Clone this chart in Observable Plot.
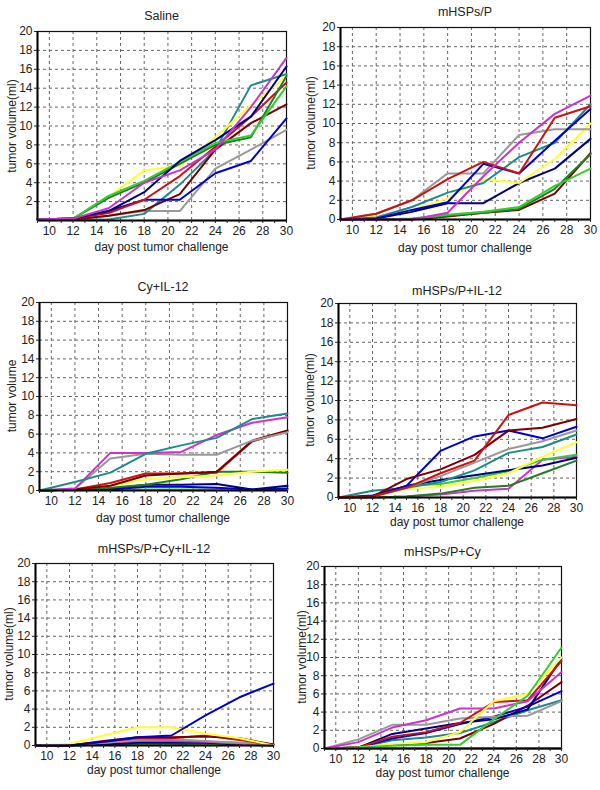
<!DOCTYPE html>
<html>
<head>
<meta charset="utf-8">
<script src="https://cdn.jsdelivr.net/npm/d3@7"></script>
<script src="https://cdn.jsdelivr.net/npm/@observablehq/plot@0.6"></script>
<style>
  html, body { margin: 0; padding: 0; background: #fff; }
  #root { position: relative; width: 600px; height: 790px; overflow: hidden; font-family: "Liberation Sans", Arial, sans-serif; color: #222; }
  .panel { position: absolute; }
  .title { position: absolute; font-size: 12.5px; font-weight: normal; text-align: center; white-space: nowrap; transform: translateX(-50%); }
  .xlab { position: absolute; font-size: 12px; white-space: nowrap; transform: translateX(-50%); }
  .ylab { position: absolute; font-size: 12px; white-space: nowrap; transform: translate(-50%, -50%) rotate(-90deg); }
</style>
</head>
<body>
<div id="root"></div>
<script>
// ---- data ----
const days = [9, 12, 15, 18, 21, 24, 27, 30];
const xTicks = [10, 12, 14, 16, 18, 20, 22, 24, 26, 28, 30];
const yTicks = [0, 2, 4, 6, 8, 10, 12, 14, 16, 18, 20];
const titles = ["Saline", "mHSPs/P", "Cy+IL-12", "mHSPs/P+IL-12", "mHSPs/P+Cy+IL-12", "mHSPs/P+Cy"];
const yLabels = ["tumor volume(ml)", "tumor volume(ml)", "tumor volume", "tumor volume(ml)", "tumor volume(ml)", "tumor volume(ml)"];
const xLabel = "day post tumor challenge";

const salineNames = ["gray", "teal", "maroon", "blue", "red", "yellow", "darkgreen", "lime", "navy", "magenta"];
const salineValues = [
  [0.1, 0.1, 0.5, 1.0, 1.0, 5.5, 7.5, 9.6],
  [0.1, 0.1, 0.1, 0.7, 3.8, 7.5, 14.3, 15.5],
  [0.1, 0.1, 0.5, 1.1, 2.8, 7.5, 10.3, 12.3],
  [0.1, 0.2, 1.0, 2.2, 2.2, 5.0, 6.3, 10.8],
  [0.1, 0.2, 0.8, 2.2, 4.7, 7.8, 11.0, 14.6],
  [0.1, 0.2, 2.5, 5.3, 5.8, 8.8, 12.2, 15.3],
  [0.1, 0.2, 2.4, 4.0, 6.0, 8.0, 8.8, 15.3],
  [0.1, 0.2, 2.6, 4.2, 6.2, 8.2, 9.0, 14.2],
  [0.1, 0.2, 1.0, 3.0, 6.3, 8.5, 11.0, 16.3],
  [0.1, 0.2, 1.3, 4.0, 5.3, 7.5, 12.0, 17.2]
];

const hspNames = ["maroon", "darkgreen", "lime", "navy", "yellow", "gray", "teal", "blue", "red", "magenta"];
const hspValues = [
  [0, 0, 0, 0.3, 0.7, 1.0, 2.7, 6.9],
  [0, 0, 0.05, 0.4, 0.7, 1.1, 3.2, 6.8],
  [0, 0, 0.1, 0.5, 0.8, 1.3, 3.5, 5.3],
  [0, 0.1, 0.8, 1.7, 1.7, 3.8, 5.3, 8.4],
  [0, 0.3, 1.0, 2.2, 4.2, 3.8, 6.3, 10.0],
  [0, 0.6, 2.0, 4.8, 4.8, 8.8, 9.4, 9.4],
  [0, 0.2, 1.3, 2.8, 3.8, 6.5, 8.0, 12.0],
  [0, 0.1, 1.0, 1.8, 5.8, 4.8, 8.2, 11.5],
  [0, 0.6, 2.0, 4.2, 6.0, 4.8, 10.6, 11.8],
  [0, 0, 0, 0.7, 4.5, 8.0, 11.0, 12.9]
];

const cyNames = ["lime", "blue", "navy", "darkgreen", "yellow", "red", "maroon", "gray", "magenta", "teal"];
const cyValues = [
  [0, 0.1, 0.1, 0.1, 0.1, 0.1, 0.1, 0.1],
  [0, 0.1, 0.1, 0.4, 0.4, 0.3, 0.1, 0.2],
  [0, 0.1, 0.2, 0.6, 0.6, 0.7, 0.1, 0.5],
  [0, 0.1, 0.3, 0.6, 1.2, 2.0, 2.0, 1.9],
  [0, 0.2, 0.5, 1.2, 1.4, 1.6, 2.0, 2.2],
  [0, 0.1, 0.8, 1.8, 1.8, 1.9, 5.2, 6.3],
  [0, 0.1, 0.5, 1.6, 1.8, 2.0, 5.3, 6.4],
  [0, 0.2, 3.4, 3.9, 3.8, 3.8, 5.3, 6.2],
  [0, 0.2, 4.0, 4.0, 4.1, 5.9, 7.2, 7.8],
  [0, 0.9, 1.9, 3.9, 4.8, 5.6, 7.6, 8.2]
];

const hspIlNames = ["magenta", "darkgreen", "lime", "navy", "yellow", "teal", "gray", "blue", "maroon", "red"];
const hspIlValues = [
  [0, 0, 0.1, 0.3, 0.7, 0.9, 3.9, 4.2],
  [0, 0, 0.1, 0.4, 1.0, 1.2, 2.5, 3.8],
  [0, 0.1, 1.2, 1.4, 2.0, 2.7, 3.9, 4.4],
  [0, 0.1, 1.2, 1.8, 2.3, 2.8, 3.3, 4.1],
  [0, 0.1, 0.9, 1.1, 1.7, 2.5, 4.2, 5.7],
  [0, 0.7, 1.0, 1.6, 2.8, 4.6, 5.2, 6.5],
  [0, 0.1, 1.0, 2.2, 3.6, 5.0, 5.8, 6.9],
  [0, 0.2, 1.2, 4.8, 6.3, 6.9, 6.1, 7.3],
  [0, 0.1, 1.9, 2.9, 4.4, 6.9, 7.2, 8.1],
  [0, 0.1, 1.0, 2.5, 3.8, 8.5, 9.8, 9.5]
];

const tripleNames = ["darkgreen", "lime", "teal", "navy", "magenta", "gray", "red", "maroon", "yellow", "blue"];
const tripleValues = [
  [0, 0, 0.1, 0.2, 0.2, 0.1, 0.1, 0.1],
  [0, 0, 0.2, 0.3, 0.3, 0.2, 0.1, 0.1],
  [0, 0, 0.2, 0.4, 0.4, 0.4, 0.3, 0],
  [0, 0, 0.1, 0.3, 0.3, 0.3, 0.1, 0],
  [0, 0, 0.3, 0.5, 0.5, 0.4, 0.2, 0],
  [0, 0, 0.3, 0.6, 0.7, 0.5, 0.3, 0],
  [0, 0, 0.4, 0.8, 0.8, 1.1, 0.6, 0.1],
  [0, 0, 0.5, 0.9, 0.9, 1.0, 0.8, 0.1],
  [0, 0.2, 1.1, 2.0, 2.0, 1.3, 0.8, 0],
  [0, 0, 0.4, 0.9, 1.1, 3.3, 5.3, 6.8]
];

const hspCyNames = ["darkgreen", "teal", "maroon", "blue", "gray", "navy", "red", "magenta", "yellow", "lime"];
const hspCyValues = [
  [0, 0, 0, 0, 0, 0, 0, 0],
  [0, 0.1, 0.9, 1.2, 1.7, 2.9, 4.2, 5.3],
  [0, 0.1, 0.4, 0.6, 1.1, 2.7, 4.7, 7.3],
  [0, 0.1, 1.1, 1.7, 2.7, 3.5, 4.6, 6.3],
  [0, 1.0, 2.6, 2.6, 3.3, 3.5, 3.6, 5.2],
  [0, 0.1, 1.6, 2.2, 2.8, 3.2, 4.3, 9.9],
  [0, 0.1, 1.3, 1.8, 2.8, 5.1, 5.3, 9.6],
  [0, 0.7, 2.3, 3.1, 4.4, 4.4, 5.2, 8.4],
  [0, 0.1, 0.5, 0.7, 1.8, 5.2, 6.0, 10.0],
  [0, 0.1, 0.3, 0.4, 0.4, 3.2, 5.8, 11.1]
];

// ---- styles ----
const colorOf = {
  yellow: "#ffff33", lime: "#33cc33", darkgreen: "#1f7f1f", magenta: "#cc33cc",
  navy: "#000080", blue: "#0000cc", red: "#cc1111", maroon: "#7a0000",
  gray: "#999999", teal: "#1f8a8a"
};

// layout: frame left, right, top, bottom; label positions
const layout = [
  {L: 37, R: 286, T: 31, B: 220, ylx: 12, xly: 240, ty: 9},
  {L: 340, R: 590, T: 27, B: 219, ylx: 311, xly: 241, ty: 5},
  {L: 39, R: 287, T: 302, B: 490, ylx: 12, xly: 511, ty: 280},
  {L: 338, R: 576, T: 303, B: 497, ylx: 310, xly: 515, ty: 284},
  {L: 35, R: 273, T: 563, B: 745, ylx: 9, xly: 763, ty: 542},
  {L: 324, R: 561, T: 566, B: 748, ylx: 302, xly: 766, ty: 545}
];
const panels = [
  [salineNames, salineValues], [hspNames, hspValues], [cyNames, cyValues],
  [hspIlNames, hspIlValues], [tripleNames, tripleValues], [hspCyNames, hspCyValues]
];

const root = document.getElementById("root");
panels.forEach(([names, values], p) => {
  const g = layout[p];
  const rows = [];
  names.forEach((n, k) => days.forEach((d, i) => rows.push({day: d, v: values[k][i], s: n, order: k})));
  const padL = 34, padT = 6, padB = 20, padR = 8;
  const W = (g.R - g.L) + padL + padR;
  const H = (g.B - g.T) + padT + padB;
  const yt = p === 0 ? yTicks.filter(t => t > 0) : yTicks;
  const chart = Plot.plot({
    width: W, height: H,
    marginLeft: padL, marginRight: padR, marginTop: padT, marginBottom: padB,
    x: {domain: [9, 30]},
    y: {domain: [0, 20]},
    style: {fontFamily: "'Liberation Sans', Arial, sans-serif", fontSize: "12px", color: "#222", background: "transparent", overflow: "visible"},
    marks: [
      Plot.gridY(yTicks.filter(t => t > 0 && t < 20), {stroke: "#666", strokeOpacity: 1, strokeDasharray: "3,3"}),
      Plot.gridX(xTicks.filter(t => t < 30), {stroke: "#666", strokeOpacity: 1, strokeDasharray: "3,3"}),
      Plot.frame({stroke: "#111", strokeWidth: 1.2}),
      Plot.line(rows, {x: "day", y: "v", z: "s", stroke: d => colorOf[d.s], strokeWidth: 2, strokeLinejoin: "round"}),
      Plot.ruleX([9], {stroke: "#000", strokeWidth: 2}),
      Plot.ruleY([0], {stroke: "#000", strokeWidth: 2}),
      Plot.axisY(yt, {tickSize: 3, tickPadding: 2, label: null, fontSize: 12}),
      Plot.axisX(d3.range(9, 31), {tickSize: 3, tickPadding: 3, label: null, fontSize: 12,
        tickFormat: d => (xTicks.includes(d) ? String(d) : "")})
    ]
  });
  const box = document.createElement("div");
  box.className = "panel";
  box.style.left = (g.L - padL) + "px";
  box.style.top = (g.T - padT) + "px";
  box.appendChild(chart);
  root.appendChild(box);

  const t = document.createElement("div");
  t.className = "title";
  t.textContent = titles[p];
  t.style.left = ((g.L + g.R) / 2) + "px";
  t.style.top = g.ty + "px";
  root.appendChild(t);

  const xl = document.createElement("div");
  xl.className = "xlab";
  xl.textContent = xLabel;
  xl.style.left = ((g.L + g.R) / 2) + "px";
  xl.style.top = g.xly + "px";
  root.appendChild(xl);

  const yl = document.createElement("div");
  yl.className = "ylab";
  yl.textContent = yLabels[p];
  yl.style.left = g.ylx + "px";
  yl.style.top = ((g.T + g.B) / 2) + "px";
  root.appendChild(yl);
});
</script>
</body>
</html>
